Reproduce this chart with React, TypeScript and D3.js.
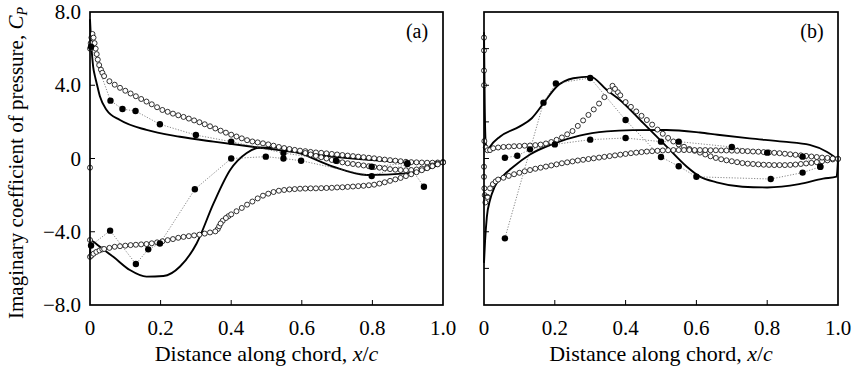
import React from 'react';
import * as d3 from 'd3';

// ---------- axes / labels ----------
const xTicks = [0, 0.2, 0.4, 0.6, 0.8, 1.0];
const xTickLabels = ['0', '0.2', '0.4', '0.6', '0.8', '1.0'];
const yTicksA = [-8, -4, 0, 4, 8];
const yTickLabels = ['\u22128.0', '\u22124.0', '0', '4.0', '8.0'];
const yTicksB = [-8, -6, -4, -2, 0, 2, 4, 6, 8];

// chordwise stations of the open-circle (computed) data
const gridX = [
  0.04, 0.055, 0.07, 0.085, 0.1, 0.115, 0.13, 0.145, 0.16, 0.175, 0.19, 0.205, 0.22, 0.235, 0.25,
  0.265, 0.28, 0.295, 0.31, 0.325, 0.34, 0.355, 0.37, 0.385, 0.4, 0.415, 0.43, 0.445, 0.46, 0.475,
  0.49, 0.505, 0.52, 0.535, 0.55, 0.565, 0.58, 0.595, 0.61, 0.625, 0.64, 0.655, 0.67, 0.685, 0.7,
  0.715, 0.73, 0.745, 0.76, 0.775, 0.79, 0.805, 0.82, 0.835, 0.85, 0.865, 0.88, 0.895, 0.91, 0.925,
  0.94, 0.955, 0.97, 0.985, 1.0,
];

// ---------- panel (a) ----------
const solidA1: [number, number][] = [
  [0, 7.6], [0.003, 6.4], [0.006, 5.6], [0.009, 5.0], [0.014, 4.5], [0.019, 4.1], [0.028, 3.4],
  [0.047, 2.65], [0.085, 2.1], [0.16, 1.56], [0.255, 1.19], [0.35, 0.92], [0.444, 0.68],
  [0.52, 0.5], [0.6, 0.3], [0.7, 0.08], [0.8, -0.08], [0.9, -0.2], [1.0, -0.24],
];
const solidA2: [number, number][] = [
  [0, -5.5], [0.002, -4.45], [0.01, -4.55], [0.028, -4.82], [0.066, -5.37], [0.113, -6.09],
  [0.16, -6.45], [0.208, -6.42], [0.255, -5.9], [0.302, -4.64], [0.35, -2.45], [0.397, -0.63],
  [0.444, 0.3], [0.48, 0.59], [0.53, 0.6], [0.595, 0.28], [0.689, -0.45], [0.784, -0.9],
  [0.897, -0.81], [0.96, -0.55], [1.0, -0.24],
];
const filledA1: [number, number][] = [
  [0.003, 6.1], [0.058, 3.16], [0.092, 2.7], [0.129, 2.59], [0.198, 1.87], [0.3, 1.28], [0.4, 0.92],
  [0.548, 0.3], [0.697, -0.12], [0.798, -0.45], [0.899, -0.26], [0.946, -1.54],
];
const filledA2: [number, number][] = [
  [0.003, -4.75], [0.057, -3.94], [0.13, -5.76], [0.165, -4.96], [0.198, -4.64], [0.297, -1.68],
  [0.4, 0.0], [0.498, 0.1], [0.548, 0.0], [0.598, -0.12], [0.798, -0.96], [0.899, -0.3],
];
const openA1Lead: [number, number][] = [
  [0, -0.5], [0, 6.0], [0.002, 6.3], [0.004, 6.6], [0.007, 6.8], [0.01, 6.6], [0.013, 6.3],
  [0.016, 6.0], [0.019, 5.7], [0.022, 5.4], [0.026, 5.1], [0.031, 4.85], [0.035, 4.68],
];
const openA1 = [
  4.5, 4.22, 4.03, 3.86, 3.7, 3.55, 3.4, 3.25, 3.11, 2.96, 2.8, 2.65, 2.55, 2.45, 2.36, 2.27, 2.18,
  2.08, 1.98, 1.87, 1.76, 1.64, 1.52, 1.41, 1.3, 1.2, 1.1, 1.0, 0.93, 0.88, 0.83, 0.77, 0.7, 0.63,
  0.57, 0.52, 0.47, 0.43, 0.4, 0.36, 0.33, 0.31, 0.28, 0.25, 0.22, 0.19, 0.16, 0.13, 0.1, 0.07,
  0.04, 0.01, -0.03, -0.06, -0.09, -0.12, -0.15, -0.18, -0.2, -0.21, -0.22, -0.23, -0.23, -0.22,
  -0.2,
];
// second branch of open circles near the trailing edge (starts at x = 0.61)
const openA3 = [
  0.3, 0.22, 0.14, 0.07, 0.0, -0.08, -0.15, -0.21, -0.26, -0.3, -0.34, -0.38, -0.42, -0.46, -0.5,
  -0.54, -0.58, -0.61, -0.63, -0.64, -0.63, -0.6, -0.55, -0.48, -0.38, -0.28, -0.2,
];
const openA2Lead: [number, number][] = [
  [0, -4.45], [0, -5.37], [0.004, -5.3], [0.01, -5.2], [0.018, -5.1], [0.027, -5.02],
  [0.035, -4.96], [0.362, -3.85], [0.366, -3.7], [0.376, -3.4], [0.392, -3.15],
];
const openA2 = [
  -4.94, -4.88, -4.82, -4.79, -4.76, -4.73, -4.71, -4.69, -4.67, -4.63, -4.58, -4.52, -4.46, -4.4,
  -4.33, -4.28, -4.24, -4.2, -4.16, -4.1, -4.04, -3.98, -3.55, -3.25, -3.05, -2.88, -2.7, -2.52,
  -2.35, -2.18, -2.03, -1.92, -1.83, -1.76, -1.72, -1.69, -1.67, -1.65, -1.64, -1.63, -1.63, -1.62,
  -1.61, -1.6, -1.58, -1.57, -1.55, -1.53, -1.51, -1.49, -1.46, -1.43, -1.37, -1.3, -1.22, -1.14,
  -1.06, -0.96, -0.86, -0.75, -0.64, -0.53, -0.42, -0.32, -0.22,
];

// ---------- panel (b) ----------
const solidB1: [number, number][] = [
  [0, 6.9], [0.002, 3.0], [0.005, 0.8], [0.01, 0.4], [0.017, 0.64], [0.045, 1.19], [0.1, 1.74],
  [0.135, 2.2], [0.168, 3.01], [0.205, 3.92], [0.252, 4.38], [0.3, 4.47], [0.347, 3.74],
  [0.384, 3.2], [0.45, 1.93], [0.516, 0.65], [0.573, -0.45], [0.61, -0.99], [0.657, -1.3],
  [0.73, -1.54], [0.8, -1.58], [0.89, -1.4], [0.958, -1.1], [0.996, -0.99], [1.0, -0.1],
];
const solidB2: [number, number][] = [
  [0, -5.7], [0.003, -4.5], [0.008, -3.2], [0.017, -2.27], [0.03, -1.55], [0.054, -0.95],
  [0.083, -0.45], [0.13, 0.22], [0.195, 0.8], [0.27, 1.25], [0.347, 1.48], [0.42, 1.55],
  [0.516, 1.56], [0.61, 1.42], [0.66, 1.3], [0.75, 1.1], [0.845, 0.92], [0.92, 0.74],
  [0.968, 0.37], [1.0, -0.05],
];
const filledB1: [number, number][] = [
  [0.059, 0.04], [0.094, 0.15], [0.13, 0.5], [0.2, 0.77], [0.3, 1.03], [0.4, 1.12], [0.5, 0.92],
  [0.55, 0.92], [0.7, 0.63], [0.8, 0.32], [0.9, 0.1], [0.95, -0.45],
];
const filledB2: [number, number][] = [
  [0.059, -4.36], [0.168, 3.05], [0.203, 4.1], [0.3, 4.4], [0.4, 2.1], [0.5, 0.08], [0.55, -0.42],
  [0.6, -1.0], [0.81, -1.12], [0.9, -0.77], [0.95, -0.45],
];
const openB1Lead: [number, number][] = [
  [0, 6.6], [0, 5.9], [0, 4.8], [0, 4.0], [0.001, 0.95], [0.005, 0.6], [0.01, 0.45], [0.017, 0.46],
  [0.026, 0.56], [0.363, 3.97], [0.378, 3.62],
];
const openB1 = [
  0.6, 0.63, 0.65, 0.67, 0.68, 0.7, 0.71, 0.73, 0.76, 0.82, 0.9, 1.02, 1.15, 1.32, 1.5, 1.78, 2.08,
  2.38, 2.68, 3.0, 3.35, 3.7, 3.8, 3.45, 3.08, 2.82, 2.57, 2.33, 2.1, 1.85, 1.58, 1.35, 1.12, 0.93,
  0.77, 0.64, 0.52, 0.42, 0.32, 0.22, 0.12, 0.03, -0.04, -0.1, -0.15, -0.2, -0.25, -0.28, -0.3,
  -0.32, -0.34, -0.35, -0.36, -0.36, -0.36, -0.35, -0.33, -0.3, -0.27, -0.24, -0.2, -0.15, -0.1,
  -0.05, -0.02,
];
const openB2Lead: [number, number][] = [
  [0, -0.45], [0, -1.0], [0.001, -1.63], [0.002, -2.0], [0.004, -2.4], [0.01, -2.1],
  [0.017, -1.63], [0.025, -1.4], [0.033, -1.25],
];
const openB2 = [
  -1.15, -1.05, -0.95, -0.86, -0.78, -0.7, -0.63, -0.56, -0.5, -0.44, -0.38, -0.32, -0.26, -0.21,
  -0.16, -0.11, -0.07, -0.03, 0.01, 0.05, 0.09, 0.13, 0.17, 0.21, 0.25, 0.29, 0.32, 0.35, 0.38, 0.4,
  0.42, 0.44, 0.45, 0.46, 0.46, 0.46, 0.46, 0.46, 0.46, 0.46, 0.45, 0.45, 0.44, 0.44, 0.43, 0.42,
  0.41, 0.4, 0.38, 0.37, 0.35, 0.33, 0.31, 0.29, 0.26, 0.23, 0.2, 0.17, 0.14, 0.11, 0.08, 0.05, 0.03,
  0.0, -0.02,
];

const zipGrid = (vals: number[], start = 0): [number, number][] =>
  vals.map((v, i) => [gridX[start + i], v] as [number, number]).filter((p) => p[0] !== undefined);

const FONT = "'Liberation Serif', 'Times New Roman', serif";
const TOP = 12;
const BOTTOM = 305;

type PanelProps = {
  left: number;
  right: number;
  yTicks: number[];
  solids: [number, number][][];
  filled: [number, number][][];
  open: [number, number][][];
  tag: string;
  showYLabels: boolean;
};

function Panel({ left, right, yTicks, solids, filled, open, tag, showYLabels }: PanelProps) {
  const x = d3.scaleLinear().domain([0, 1]).range([left, right]);
  const y = d3.scaleLinear().domain([-8, 8]).range([BOTTOM, TOP]);
  const solidLine = d3
    .line<[number, number]>()
    .x((d) => x(d[0]))
    .y((d) => y(d[1]))
    .curve(d3.curveMonotoneX);
  const dotLine = d3
    .line<[number, number]>()
    .x((d) => x(d[0]))
    .y((d) => y(d[1]));
  const cx = (left + right) / 2;
  return (
    <g>
      <defs>
        <clipPath id={`clip-${tag}`}>
          <rect x={left - 3} y={TOP} width={right - left + 6} height={BOTTOM - TOP} />
        </clipPath>
      </defs>
      <g clipPath={`url(#clip-${tag})`}>
        {solids.map((s, i) => (
          <path key={'s' + i} d={solidLine(s) || ''} fill="none" stroke="#000" strokeWidth={1.9} />
        ))}
        {filled.map((s, i) => (
          <path
            key={'d' + i}
            d={dotLine(s) || ''}
            fill="none"
            stroke="#555"
            strokeWidth={0.7}
            strokeDasharray="1.2,1.6"
          />
        ))}
        {open.map((s, i) =>
          s.map((p, j) => (
            <circle
              key={'o' + i + '-' + j}
              cx={x(p[0])}
              cy={y(p[1])}
              r={2.5}
              fill="#fff"
              stroke="#000"
              strokeWidth={0.8}
            />
          ))
        )}
        {filled.map((s, i) =>
          s.map((p, j) => (
            <circle key={'f' + i + '-' + j} cx={x(p[0])} cy={y(p[1])} r={3.2} fill="#000" />
          ))
        )}
      </g>
      {/* frame */}
      <rect
        x={left}
        y={TOP}
        width={right - left}
        height={BOTTOM - TOP}
        fill="none"
        stroke="#000"
        strokeWidth={1.7}
      />
      {/* y ticks (inward) */}
      {yTicks
        .filter((t) => t > -8 && t < 8)
        .map((t) => (
          <line key={'yt' + t} x1={left} x2={left + 5} y1={y(t)} y2={y(t)} stroke="#000" strokeWidth={1} />
        ))}
      {/* x ticks (inward) */}
      {xTicks
        .filter((t) => t > 0 && t < 1)
        .map((t) => (
          <line key={'xt' + t} x1={x(t)} x2={x(t)} y1={BOTTOM} y2={BOTTOM - 5} stroke="#000" strokeWidth={1} />
        ))}
      {showYLabels &&
        yTicksA.map((t, i) => (
          <text
            key={'yl' + t}
            x={left - 9}
            y={y(t)}
            dy="0.34em"
            textAnchor="end"
            fontFamily={FONT}
            fontSize={21}
          >
            {yTickLabels[i]}
          </text>
        ))}
      {xTicks.map((t, i) => (
        <text key={'xl' + t} x={x(t)} y={335} textAnchor="middle" fontFamily={FONT} fontSize={21}>
          {xTickLabels[i]}
        </text>
      ))}
      <text x={cx} y={361} textAnchor="middle" fontFamily={FONT} fontSize={22}>
        Distance along chord, <tspan fontStyle="italic">x</tspan>/<tspan fontStyle="italic">c</tspan>
      </text>
      <text x={right - 26} y={38} textAnchor="middle" fontFamily={FONT} fontSize={20}>
        {tag}
      </text>
    </g>
  );
}

export default function App() {
  const openA = [openA1Lead, zipGrid(openA1), zipGrid(openA3, 38), openA2Lead, zipGrid(openA2)];
  const openB = [openB1Lead, zipGrid(openB1), openB2Lead, zipGrid(openB2)];
  return (
    <svg
      width={857}
      height={368}
      viewBox="0 0 857 368"
      style={{ position: 'absolute', left: 0, top: 0, background: '#fff', display: 'block' }}
    >
      <rect x={0} y={0} width={857} height={368} fill="#fff" />
      <text
        transform="translate(23,163) rotate(-90)"
        textAnchor="middle"
        fontFamily={FONT}
        fontSize={21}
      >
        Imaginary coefficient of pressure, <tspan fontStyle="italic">C</tspan>
        <tspan fontStyle="italic" fontSize={14} dy={4}>
          P
        </tspan>
      </text>
      <Panel
        left={90}
        right={443}
        yTicks={yTicksA}
        solids={[solidA1, solidA2]}
        filled={[filledA1, filledA2]}
        open={openA}
        tag="(a)"
        showYLabels={true}
      />
      <Panel
        left={484}
        right={838}
        yTicks={yTicksB}
        solids={[solidB1, solidB2]}
        filled={[filledB1, filledB2]}
        open={openB}
        tag="(b)"
        showYLabels={false}
      />
    </svg>
  );
}
